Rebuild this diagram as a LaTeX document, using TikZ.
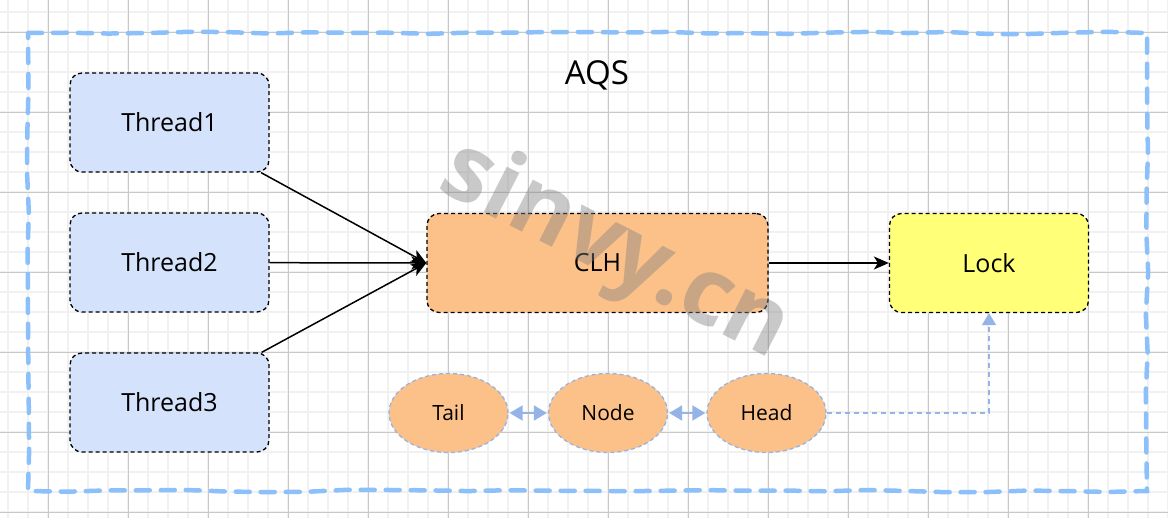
\documentclass[tikz,border=0pt]{standalone}
\usepackage{fontspec}
\setmainfont{Open Sans}
\usetikzlibrary{arrows.meta,decorations.pathmorphing,positioning,shapes.geometric}
\definecolor{gridminor}{HTML}{F1F1F1}
\definecolor{gridmajor}{HTML}{C8C8C8}
\definecolor{threadfill}{HTML}{D4E2FB}
\definecolor{clhfill}{HTML}{FBC189}
\definecolor{lockfill}{HTML}{FFFF78}
\definecolor{outerblue}{HTML}{8CC0FA}
\definecolor{lightblue}{HTML}{94B4E8}
\tikzset{
  box/.style={draw=black, line width=1.3pt, dash pattern=on 4pt off 3pt,
    rounded corners=12pt, minimum width=199pt, minimum height=99pt,
    inner sep=0pt, font=\fontsize{25}{30}\selectfont},
  oval/.style={ellipse, draw=lightblue, line width=1.3pt, dash pattern=on 4pt off 3pt,
    fill=clhfill, minimum width=119pt, minimum height=79pt, inner sep=0pt,
    font=\fontsize{21}{25}\selectfont},
  flow/.style={draw=black, line width=1.5pt, -{Stealth[length=15pt,width=13pt,inset=4pt]}},
  link/.style={draw=lightblue, line width=2pt,
    {Triangle[length=13pt,width=15pt]}-{Triangle[length=13pt,width=15pt]}, shorten <=1pt, shorten >=1pt},
  lockref/.style={draw=lightblue, line width=1.5pt, dash pattern=on 5pt off 4pt,
    -{Triangle[length=12pt,width=14pt]}},
  outer/.style={draw=outerblue, line width=4.5pt, line cap=round,
    dash pattern=on 14pt off 11pt,
    decorate, decoration={random steps, segment length=40pt, amplitude=1.2pt}},
  wmark/.style={text=gray, opacity=0.42, font=\fontsize{94}{98}\selectfont\bfseries, rotate=-27}
}
\begin{document}
\begin{tikzpicture}[x=1pt,y=-1pt]
\pgfmathsetseed{7}
\fill[white] (0,0) rectangle (1168,518);
\useasboundingbox (0,0) rectangle (1168,518);
% grid
\foreach \gx in {8,28,...,1168} \draw[gridminor, line width=1.3pt] (\gx,0) -- (\gx,518);
\foreach \gy in {12,32,...,518} \draw[gridminor, line width=1.3pt] (0,\gy) -- (1168,\gy);
\foreach \gx in {48,128,...,1168} \draw[gridmajor, line width=0.9pt] (\gx,0) -- (\gx,518);
\foreach \gy in {32,112,...,518} \draw[gridmajor, line width=0.9pt] (0,\gy) -- (1168,\gy);
% outer AQS frame
\coordinate (o1) at (28,33);
\coordinate (o2) at (1147,33);
\coordinate (o3) at (1147,491);
\coordinate (o4) at (28,491);
\draw[outer] (o1) -- (o2) -- (o3) -- (o4) -- cycle;
\node[font=\fontsize{33}{38}\selectfont] (aqs) at (597,75) {AQS};
% threads
\node[box, fill=threadfill] (t1) at (169.5,122.5) {Thread1};
\node[box, fill=threadfill] (t2) at (169.5,262.5) {Thread2};
\node[box, fill=threadfill] (t3) at (169.5,402.5) {Thread3};
% CLH and Lock
\node[box, fill=clhfill, minimum width=341pt] (clh) at (597.5,263) {CLH};
\node[box, fill=lockfill] (lock) at (989,263) {Lock};
% queue
\node[oval] (tail) at (448.5,413) {Tail};
\node[oval] (qnode) at (608,413) {Node};
\node[oval] (head) at (766.5,413) {Head};
% watermark
\node[wmark] (wm) at (615,252) {sinvy.cn};
% connectors
\draw[flow] (t1) -- (clh.west);
\draw[flow] (t2) -- (clh.west);
\draw[flow] (t3) -- (clh.west);
\draw[flow] (clh) -- (lock);
\draw[link] (tail) -- (qnode);
\draw[link] (qnode) -- (head);
\draw[lockref] (head.east) -| (lock.south);
\end{tikzpicture}
\end{document}
